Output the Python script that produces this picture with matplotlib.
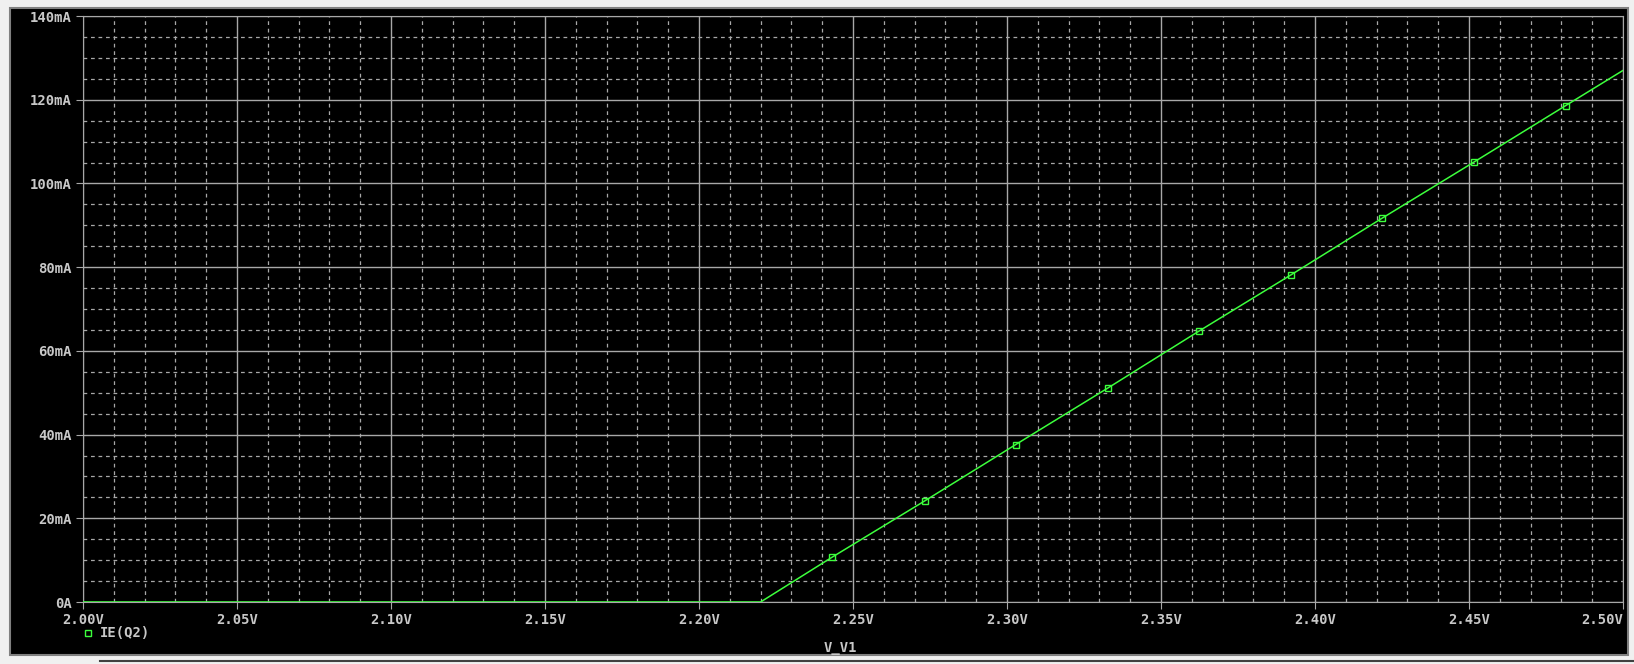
import matplotlib.pyplot as plt
from matplotlib.patches import Rectangle
from matplotlib.lines import Line2D

# sweep of V_V1 (V) and emitter current IE(Q2) (mA)
v = [2.00, 2.22, 2.2432, 2.2734, 2.3028, 2.3327, 2.3625, 2.3923, 2.4218, 2.4516, 2.4814, 2.50]
ie = [0.0, 0.0, 10.7, 24.2, 37.6, 51.1, 64.8, 78.2, 91.7, 105.1, 118.6, 127.0]
marker_idx = [2, 3, 4, 5, 6, 7, 8, 9, 10]

x_ticks = [2.00, 2.05, 2.10, 2.15, 2.20, 2.25, 2.30, 2.35, 2.40, 2.45, 2.50]
x_labels = ['2.00V', '2.05V', '2.10V', '2.15V', '2.20V', '2.25V', '2.30V', '2.35V', '2.40V', '2.45V', '2.50V']
y_ticks = [0, 20, 40, 60, 80, 100, 120, 140]
y_labels = ['0A', '20mA', '40mA', '60mA', '80mA', '100mA', '120mA', '140mA']

W, H = 1634, 664
txt = '#c8c8c8'
green = '#3cff3c'
plt.rcParams['font.family'] = ['DejaVu Sans Mono']

fig = plt.figure(figsize=(W / 100, H / 100), dpi=100, facecolor='#f0f0f0')

# black plot window behind the axes
fig.patches.append(Rectangle((10 / W, 1 - 655 / H), 1618 / W, 647 / H, transform=fig.transFigure,
                             facecolor='black', edgecolor='#808080', linewidth=1.5, zorder=-10))
fig.lines.append(Line2D([100 / W, 1], [1 - 661 / H, 1 - 661 / H], transform=fig.transFigure,
                        color='#404040', linewidth=1.5, zorder=-10))

ax = fig.add_axes([83 / W, 1 - 602 / H, 1540 / W, 586 / H])
ax.set_facecolor('black')

ax.plot(v, ie, color=green, linewidth=1.1, zorder=3)
ax.plot([v[i] for i in marker_idx], [ie[i] for i in marker_idx], linestyle='none', marker='s',
        markersize=5, markerfacecolor='none', markeredgecolor=green, markeredgewidth=1, zorder=4)

ax.set_xlim(2.0, 2.5)
ax.set_ylim(0, 140)
ax.set_xticks(x_ticks)
ax.set_xticklabels(x_labels)
ax.set_yticks(y_ticks)
ax.set_yticklabels(y_labels)
ax.set_xticks([2.0 + 0.01 * k for k in range(51)], minor=True)
ax.set_yticks([5 * k for k in range(29)], minor=True)
ax.set_axisbelow(True)

ax.grid(which='major', color='#a8a8a8', linestyle='-', linewidth=1)
ax.grid(which='minor', color='#a8a8a8', linestyle=(0, (3, 3)), linewidth=0.9)
ax.tick_params(which='minor', length=0)
ax.tick_params(which='major', length=5, color='#a8a8a8', labelcolor=txt, labelsize=10, pad=3)
for lab in ax.get_xticklabels() + ax.get_yticklabels():
    lab.set_fontweight('bold')
ax.get_xticklabels()[-1].set_horizontalalignment('right')  # last label sits inside the window
for s in ax.spines.values():
    s.set_color('#a8a8a8')

# legend and axis title
fig.lines.append(Line2D([88 / W], [1 - 633 / H], transform=fig.transFigure, marker='s', markersize=5,
                        markerfacecolor='none', markeredgecolor=green, linestyle='none'))
fig.text(100 / W, 1 - 633 / H, 'IE(Q2)', color=txt, fontsize=10, fontweight='bold', va='center', ha='left')
fig.text(840 / W, 1 - 648 / H, 'V_V1', color=txt, fontsize=10, fontweight='bold', va='center', ha='center')

fig.savefig('out.png', dpi=100, facecolor=fig.get_facecolor())
